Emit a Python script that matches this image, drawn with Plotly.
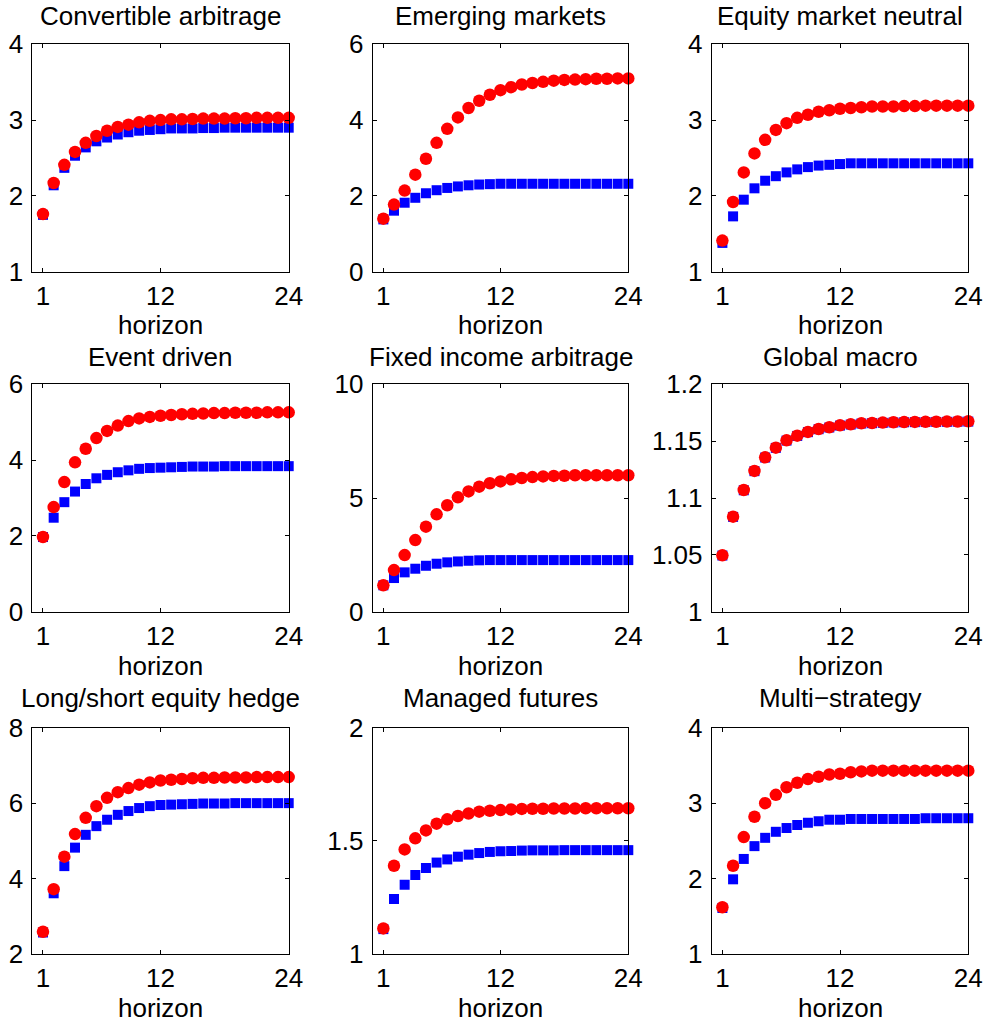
import plotly.graph_objects as go

W, H = 987, 1025

horizon = list(range(1, 25))

titles = ["Convertible arbitrage", "Emerging markets", "Equity market neutral",
          "Event driven", "Fixed income arbitrage", "Global macro",
          "Long/short equity hedge", "Managed futures", "Multi\u2212strategy"]

red_conv = [1.76, 2.17, 2.41, 2.58, 2.70, 2.79, 2.86, 2.91, 2.94, 2.97, 2.99, 3.00,
            3.01, 3.01, 3.015, 3.02, 3.02, 3.02, 3.025, 3.025, 3.03, 3.03, 3.03, 3.03]
blue_conv = [1.75, 2.14, 2.37, 2.53, 2.64, 2.72, 2.77, 2.81, 2.84, 2.86, 2.87, 2.88,
             2.89, 2.89, 2.89, 2.895, 2.895, 2.9, 2.9, 2.9, 2.9, 2.9, 2.9, 2.9]

red_emer = [1.40, 1.77, 2.14, 2.56, 2.98, 3.40, 3.77, 4.07, 4.32, 4.51, 4.67, 4.79,
            4.87, 4.94, 4.98, 5.01, 5.04, 5.06, 5.07, 5.08, 5.09, 5.09, 5.10, 5.10]
blue_emer = [1.38, 1.61, 1.82, 1.95, 2.07, 2.15, 2.21, 2.25, 2.28, 2.30, 2.31, 2.32,
             2.32, 2.32, 2.32, 2.32, 2.32, 2.32, 2.32, 2.32, 2.32, 2.32, 2.32, 2.32]

red_eqmn = [1.41, 1.92, 2.31, 2.56, 2.74, 2.87, 2.96, 3.03, 3.07, 3.11, 3.13, 3.15,
            3.16, 3.17, 3.18, 3.18, 3.18, 3.185, 3.185, 3.19, 3.19, 3.19, 3.19, 3.19]
blue_eqmn = [1.38, 1.73, 1.95, 2.10, 2.20, 2.26, 2.31, 2.35, 2.38, 2.40, 2.41, 2.42,
             2.43, 2.43, 2.43, 2.43, 2.43, 2.43, 2.43, 2.43, 2.43, 2.43, 2.43, 2.43]

red_event = [1.97, 2.76, 3.42, 3.94, 4.30, 4.58, 4.77, 4.91, 5.03, 5.10, 5.14, 5.17,
             5.19, 5.21, 5.22, 5.23, 5.24, 5.24, 5.25, 5.25, 5.25, 5.26, 5.26, 5.26]
blue_event = [1.97, 2.48, 2.89, 3.17, 3.37, 3.52, 3.61, 3.68, 3.73, 3.77, 3.79, 3.80,
              3.81, 3.82, 3.83, 3.83, 3.83, 3.84, 3.84, 3.84, 3.84, 3.84, 3.84, 3.84]

red_fixed = [1.16, 1.83, 2.49, 3.15, 3.74, 4.28, 4.68, 5.03, 5.29, 5.50, 5.65, 5.73,
             5.82, 5.88, 5.92, 5.95, 5.97, 5.98, 6.00, 6.00, 6.00, 6.00, 6.00, 6.00]
blue_fixed = [1.16, 1.48, 1.73, 1.89, 2.02, 2.11, 2.17, 2.21, 2.24, 2.26, 2.27, 2.27,
              2.27, 2.27, 2.27, 2.27, 2.27, 2.27, 2.27, 2.27, 2.27, 2.27, 2.27, 2.27]

red_macro = [1.0496, 1.0836, 1.1070, 1.1238, 1.1358, 1.1443, 1.1507, 1.1548, 1.1581,
             1.1607, 1.1622, 1.1639, 1.1648, 1.1657, 1.1660, 1.1663, 1.1666, 1.1668,
             1.1669, 1.1670, 1.1671, 1.1672, 1.1673, 1.1674]
blue_macro = [1.0494, 1.0834, 1.1068, 1.1236, 1.1356, 1.1441, 1.1505, 1.1546, 1.1579,
              1.1605, 1.1620, 1.1637, 1.1646, 1.1655, 1.1658, 1.1661, 1.1664, 1.1666,
              1.1667, 1.1668, 1.1669, 1.1670, 1.1671, 1.1672]

red_ls = [2.59, 3.72, 4.58, 5.18, 5.61, 5.92, 6.14, 6.29, 6.40, 6.49, 6.55, 6.60,
          6.62, 6.64, 6.66, 6.67, 6.67, 6.68, 6.68, 6.68, 6.69, 6.69, 6.69, 6.69]
blue_ls = [2.57, 3.61, 4.33, 4.82, 5.16, 5.39, 5.56, 5.69, 5.79, 5.87, 5.92, 5.95,
           5.96, 5.97, 5.98, 5.99, 5.99, 5.99, 6.00, 6.00, 6.00, 6.00, 6.00, 6.00]

red_mf = [1.113, 1.390, 1.462, 1.511, 1.546, 1.576, 1.595, 1.610, 1.621, 1.629, 1.633,
          1.636, 1.639, 1.641, 1.642, 1.642, 1.643, 1.643, 1.643, 1.644, 1.644, 1.644,
          1.644, 1.644]
blue_mf = [1.110, 1.243, 1.306, 1.349, 1.380, 1.404, 1.418, 1.430, 1.439, 1.446, 1.451,
           1.454, 1.455, 1.457, 1.458, 1.458, 1.458, 1.459, 1.459, 1.459, 1.459, 1.459,
           1.459, 1.459]

red_multi = [1.62, 2.17, 2.55, 2.82, 3.00, 3.11, 3.21, 3.27, 3.32, 3.35, 3.38, 3.39,
             3.41, 3.42, 3.43, 3.43, 3.43, 3.43, 3.43, 3.43, 3.43, 3.43, 3.43, 3.43]
blue_multi = [1.61, 1.99, 2.26, 2.43, 2.54, 2.62, 2.67, 2.71, 2.74, 2.76, 2.78, 2.78,
              2.79, 2.79, 2.79, 2.79, 2.79, 2.79, 2.79, 2.80, 2.80, 2.80, 2.80, 2.80]

red_series = [red_conv, red_emer, red_eqmn, red_event, red_fixed, red_macro,
              red_ls, red_mf, red_multi]
blue_series = [blue_conv, blue_emer, blue_eqmn, blue_event, blue_fixed, blue_macro,
               blue_ls, blue_mf, blue_multi]

y_ranges = [[1, 4], [0, 6], [1, 4], [0, 6], [0, 10], [1, 1.2], [2, 8], [1, 2], [1, 4]]
y_ticks = [[1, 2, 3, 4], [0, 2, 4, 6], [1, 2, 3, 4], [0, 2, 4, 6], [0, 5, 10],
           [1, 1.05, 1.1, 1.15, 1.2], [2, 4, 6, 8], [1, 1.5, 2], [1, 2, 3, 4]]
y_ticktext = [["1", "2", "3", "4"], ["0", "2", "4", "6"], ["1", "2", "3", "4"],
              ["0", "2", "4", "6"], ["0", "5", "10"],
              ["1", "1.05", "1.1", "1.15", "1.2"], ["2", "4", "6", "8"],
              ["1", "1.5", "2"], ["1", "2", "3", "4"]]
x_ticks = [1, 12, 24]
x_label = "horizon"

# layout in pixels
col_px = [(32.3, 288.7), (372.7, 628.3), (711.7, 968.3)]
row_px = [(44.3, 271.7), (384.3, 611.7), (727.7, 954.0)]
title_y_px = [16, 357, 698]
xlabel_y_px = [325, 666, 1008]

FONT = "Liberation Sans, Arial, Helvetica, sans-serif"
FS = 26

fig = go.Figure()
annotations = []
for i in range(9):
    r, c = divmod(i, 3)
    n = i + 1
    xa = "x" if n == 1 else f"x{n}"
    ya = "y" if n == 1 else f"y{n}"
    fig.add_trace(go.Scatter(x=horizon, y=blue_series[i], mode="markers",
                             marker=dict(symbol="square", size=10, color="#0000FF",
                                         line=dict(width=0)),
                             xaxis=xa, yaxis=ya, showlegend=False, cliponaxis=False))
    fig.add_trace(go.Scatter(x=horizon, y=red_series[i], mode="markers",
                             marker=dict(symbol="circle", size=12.5, color="#FF0000",
                                         line=dict(width=0)),
                             xaxis=xa, yaxis=ya, showlegend=False, cliponaxis=False))
    x0, x1 = col_px[c]
    y0, y1 = row_px[r]
    xdom = [x0 / W, x1 / W]
    ydom = [1 - y1 / H, 1 - y0 / H]
    axis_common = dict(showgrid=False, zeroline=False, showline=True, linecolor="black",
                       linewidth=1, mirror="ticks", ticks="inside", ticklen=4,
                       tickcolor="black", tickwidth=1, automargin=False,
                       tickfont=dict(family=FONT, size=FS, color="black"))
    fig.layout[f"xaxis{'' if n == 1 else n}"] = dict(
        domain=xdom, range=[0, 24], tickmode="array", tickvals=x_ticks,
        ticktext=[str(t) for t in x_ticks], anchor=ya, ticklabelstandoff=1,
        **axis_common)
    fig.layout[f"yaxis{'' if n == 1 else n}"] = dict(
        domain=ydom, range=y_ranges[i], tickmode="array", tickvals=y_ticks[i],
        ticktext=y_ticktext[i], anchor=xa, ticklabelstandoff=3, **axis_common)
    xc = (x0 + x1) / 2 / W
    annotations.append(dict(text=titles[i], x=xc, y=1 - title_y_px[r] / H,
                            xref="paper", yref="paper", xanchor="center",
                            yanchor="middle", showarrow=False,
                            font=dict(family=FONT, size=FS, color="black")))
    annotations.append(dict(text=x_label, x=xc, y=1 - xlabel_y_px[r] / H,
                            xref="paper", yref="paper", xanchor="center",
                            yanchor="middle", showarrow=False,
                            font=dict(family=FONT, size=FS, color="black")))

fig.update_layout(width=W, height=H, margin=dict(l=0, r=0, t=0, b=0, autoexpand=False),
                  paper_bgcolor="white", plot_bgcolor="white",
                  annotations=annotations, showlegend=False)

fig.write_html("out.html")
